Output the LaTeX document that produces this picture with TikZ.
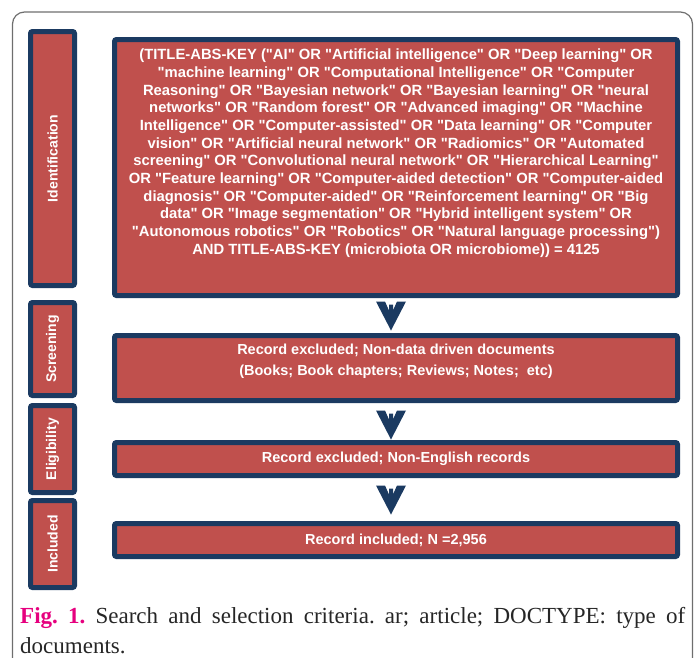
\documentclass[tikz,border=0pt]{standalone}
\usepackage{fontspec}
\setmainfont{Liberation Serif}
\newfontfamily\boxfont{Liberation Sans}

\definecolor{boxred}{HTML}{C0504D}
\definecolor{boxnavy}{HTML}{1B3A61}
\definecolor{figpink}{HTML}{E6007E}
\definecolor{framegray}{HTML}{6E6E6E}

\tikzset{
    mainbox/.style={draw=boxnavy, fill=boxred, line width=5pt, rounded corners=2pt,
        text=white, font=\boxfont\bfseries\fontsize{14.5}{21}\selectfont,
        minimum width=563pt, inner sep=0pt, align=center},
    sidebox/.style={draw=boxnavy, fill=boxred, line width=5pt, rounded corners=2pt,
        text=white, font=\boxfont\bfseries\fontsize{14}{16}\selectfont,
        minimum height=44pt, inner sep=0pt, rotate=90},
    chevron/.pic={
        \fill[boxnavy] (-15,0) -- (-6,0) -- (-2,9) -- (-2,3) -- (2,3) -- (2,9)
            -- (6,0) -- (15,0) -- (0,29) -- cycle;
    }
}

\begin{document}
\frenchspacing
\begin{tikzpicture}[x=1pt, y=-1pt]
    \useasboundingbox (0,0) rectangle (697,657);

    % outer frame, open at the bottom
    \draw[framegray, line width=1.2pt, rounded corners=12pt]
        (12.5,660) -- (12.5,12) -- (692.5,12) -- (692.5,660);

    % stages
    \node[sidebox, minimum width=254pt] (ident) at (52.5,158.5) {Identification};
    \node[sidebox, minimum width=93pt] (screen) at (52.5,349) {Screening};
    \node[sidebox, minimum width=87pt] (elig) at (52.5,449) {Eligibility};
    \node[sidebox, minimum width=87pt] (incl) at (52.5,544) {Included};

    % boxes
    \node[mainbox, minimum height=256pt] (search) at (396,167.5) {%
        \parbox[c][237pt][t]{555pt}{\centering\fontsize{14.8}{17.67}\selectfont
        (TITLE-ABS-KEY ("AI" OR "Artificial intelligence" OR "Deep learning" OR\\
        "machine learning" OR "Computational Intelligence" OR "Computer\\
        Reasoning" OR "Bayesian network" OR "Bayesian learning" OR "neural\\
        networks" OR "Random forest" OR "Advanced imaging" OR "Machine\\
        Intelligence" OR "Computer-assisted" OR "Data learning" OR "Computer\\
        vision" OR "Artificial neural network" OR "Radiomics" OR "Automated\\
        screening" OR "Convolutional neural network" OR "Hierarchical Learning"\\
        OR "Feature learning" OR "Computer-aided detection" OR "Computer-aided\\
        diagnosis" OR "Computer-aided" OR "Reinforcement learning" OR "Big\\
        data" OR "Image segmentation" OR "Hybrid intelligent system" OR\\
        "Autonomous robotics" OR "Robotics" OR "Natural language processing")\\
        AND TITLE-ABS-KEY (microbiota OR microbiome)) = 4125}};
    \node[mainbox, minimum height=65pt] (nodata) at (396,368) {%
        \parbox[c][49pt][t]{555pt}{\centering
        Record excluded; Non-data driven documents\\
        (Books; Book chapters; Reviews; Notes;\ \ etc)}};
    \node[mainbox, minimum height=33pt] (noneng) at (396,459)
        {Record excluded; Non-English records};
    \node[mainbox, minimum height=33pt] (result) at (396,540)
        {Record included; N =2,956};

    % chevrons between the boxes
    \pic at ([xshift=-5pt, yshift=-3.5pt]search.south) {chevron};
    \pic at ([xshift=-5pt, yshift=-7.5pt]nodata.south) {chevron};
    \pic at ([xshift=-5pt, yshift=-7.5pt]noneng.south) {chevron};

    % caption
    \node[anchor=base west, text width=665pt, align=justify, inner sep=0pt,
        text=black!85, font=\fontsize{23}{30}\selectfont] (caption) at (20,623)
        {\textcolor{figpink}{\textbf{Fig. 1.}} Search and selection criteria. ar; article; DOCTYPE: type of\linebreak documents.};
\end{tikzpicture}
\end{document}
